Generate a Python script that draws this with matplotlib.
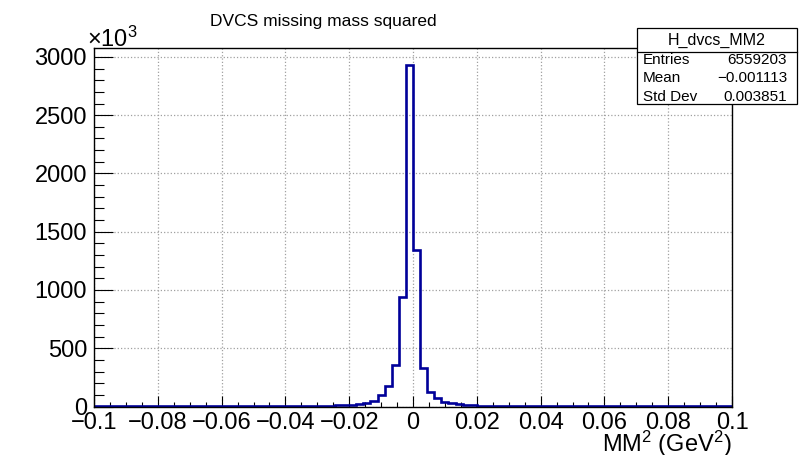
import numpy as np
import matplotlib
matplotlib.use("Agg")
import matplotlib.pyplot as plt
from matplotlib.patches import Rectangle
from matplotlib.ticker import MultipleLocator

plt.rcParams["font.family"] = ["Liberation Sans", "DejaVu Sans"]
plt.rcParams["mathtext.fontset"] = "custom"
plt.rcParams["mathtext.rm"] = "Liberation Sans"
plt.rcParams["mathtext.it"] = "Liberation Sans:italic"
plt.rcParams["mathtext.default"] = "regular"

# histogram range and binning (90 bins over [-0.1, 0.1])
x_min, x_max, n_bins = -0.1, 0.1, 90

# bin contents in units of 10^3 entries, left to right
counts_left = [0.2, 0.2, 0.2, 0.2, 0.3, 0.3, 0.3, 0.3, 0.3, 0.4,
               0.4, 0.4, 0.4, 0.5, 0.5, 0.5, 0.6, 0.6, 0.6, 0.7,
               0.7, 0.8, 0.8, 0.9, 0.9, 1.0, 1.2, 1.5, 2.0, 2.5,
               3, 4, 5, 7, 9, 12, 17, 22, 30, 45,
               95, 180, 360, 942, 2930]
counts_right = [1343, 330, 128, 70, 42, 27, 19, 14, 10, 7,
                5, 4, 3, 2.5, 2, 1.6, 1.3, 1.1, 1.0, 0.9,
                0.8, 0.7, 0.7, 0.6, 0.6, 0.5, 0.5, 0.5, 0.4, 0.4,
                0.4, 0.4, 0.3, 0.3, 0.3, 0.3, 0.3, 0.2, 0.2, 0.2,
                0.2, 0.2, 0.2, 0.2, 0.2]
counts = np.array(counts_left + counts_right)

hist_name = "H_dvcs_MM2"
stat_labels = ["Entries", "Mean", "Std Dev"]
stat_values = ["6559203", "\u22120.001113", "0.003851"]

xticks = [-0.1, -0.08, -0.06, -0.04, -0.02, 0, 0.02, 0.04, 0.06, 0.08, 0.1]
xtick_labels = ["\u22120.1", "\u22120.08", "\u22120.06", "\u22120.04", "\u22120.02",
                "0", "0.02", "0.04", "0.06", "0.08", "0.1"]
yticks = [0, 500, 1000, 1500, 2000, 2500, 3000]

W, H = 805, 455
fig = plt.figure(figsize=(W / 100, H / 100), dpi=100)
fig.patch.set_facecolor("white")

# frame in pixel coordinates
fl, fr, ft, fb = 94, 732, 48, 406.5
ax = fig.add_axes([fl / W, 1 - fb / H, (fr - fl) / W, (fb - ft) / H])

edges = np.linspace(x_min, x_max, n_bins + 1)
ax.stairs(counts, edges, color="#000099", linewidth=1.9, baseline=0)

ax.set_xlim(x_min, x_max)
ax.set_ylim(0, 1.05 * counts.max())

ax.set_xticks(xticks)
ax.set_xticklabels(xtick_labels)
ax.set_yticks(yticks)
ax.xaxis.set_minor_locator(MultipleLocator(0.005))
ax.yaxis.set_minor_locator(MultipleLocator(100))

ax.tick_params(axis="x", which="major", direction="in", length=7.7, width=0.8,
               labelsize=17, pad=4)
ax.tick_params(axis="x", which="minor", direction="in", length=3.9, width=0.8)
ax.tick_params(axis="y", which="major", direction="in", length=13.7, width=0.8,
               labelsize=17, pad=5)
ax.tick_params(axis="y", which="minor", direction="in", length=6.9, width=0.8)

ax.grid(True, which="major", linestyle=":", color="#a0a0a0", linewidth=0.9)
ax.set_axisbelow(True)
for s in ax.spines.values():
    s.set_linewidth(1.0)
    s.set_color("black")

# title, exponent and axis title
fig.text(323 / W, 1 - 26 / H, "DVCS missing mass squared", ha="center",
         va="baseline", fontsize=12.5)
fig.text(87 / W, 1 - 47 / H, r"$\times10^{3}$", ha="left", va="baseline",
         fontsize=17)
fig.text(fr / W, 1 - 451.5 / H, r"MM$^{2}$ (GeV$^{2}$)", ha="right",
         va="baseline", fontsize=17)

# statistics box
bl, br, bt, bb = 636.7, 797, 28.3, 104.3
fig.patches.append(Rectangle((bl / W, 1 - bb / H), (br - bl) / W, (bb - bt) / H,
                             transform=fig.transFigure, facecolor="white",
                             edgecolor="black", linewidth=0.9, zorder=5))
fig.lines.append(plt.Line2D([bl / W, br / W], [1 - 51.7 / H, 1 - 51.7 / H],
                            transform=fig.transFigure, color="black",
                            linewidth=0.9, zorder=6))
fig.text((bl + br) / 2 / W, 1 - 40 / H, hist_name, ha="center", va="center",
         fontsize=11.5, zorder=7)
for i, (lab, val) in enumerate(zip(stat_labels, stat_values)):
    yy = 1 - (60 + 18.3 * i) / H
    fig.text(643 / W, yy, lab, ha="left", va="center", fontsize=11, zorder=7)
    fig.text(787 / W, yy, val, ha="right", va="center", fontsize=11, zorder=7)

fig.savefig("out.png", dpi=100, facecolor="white")
